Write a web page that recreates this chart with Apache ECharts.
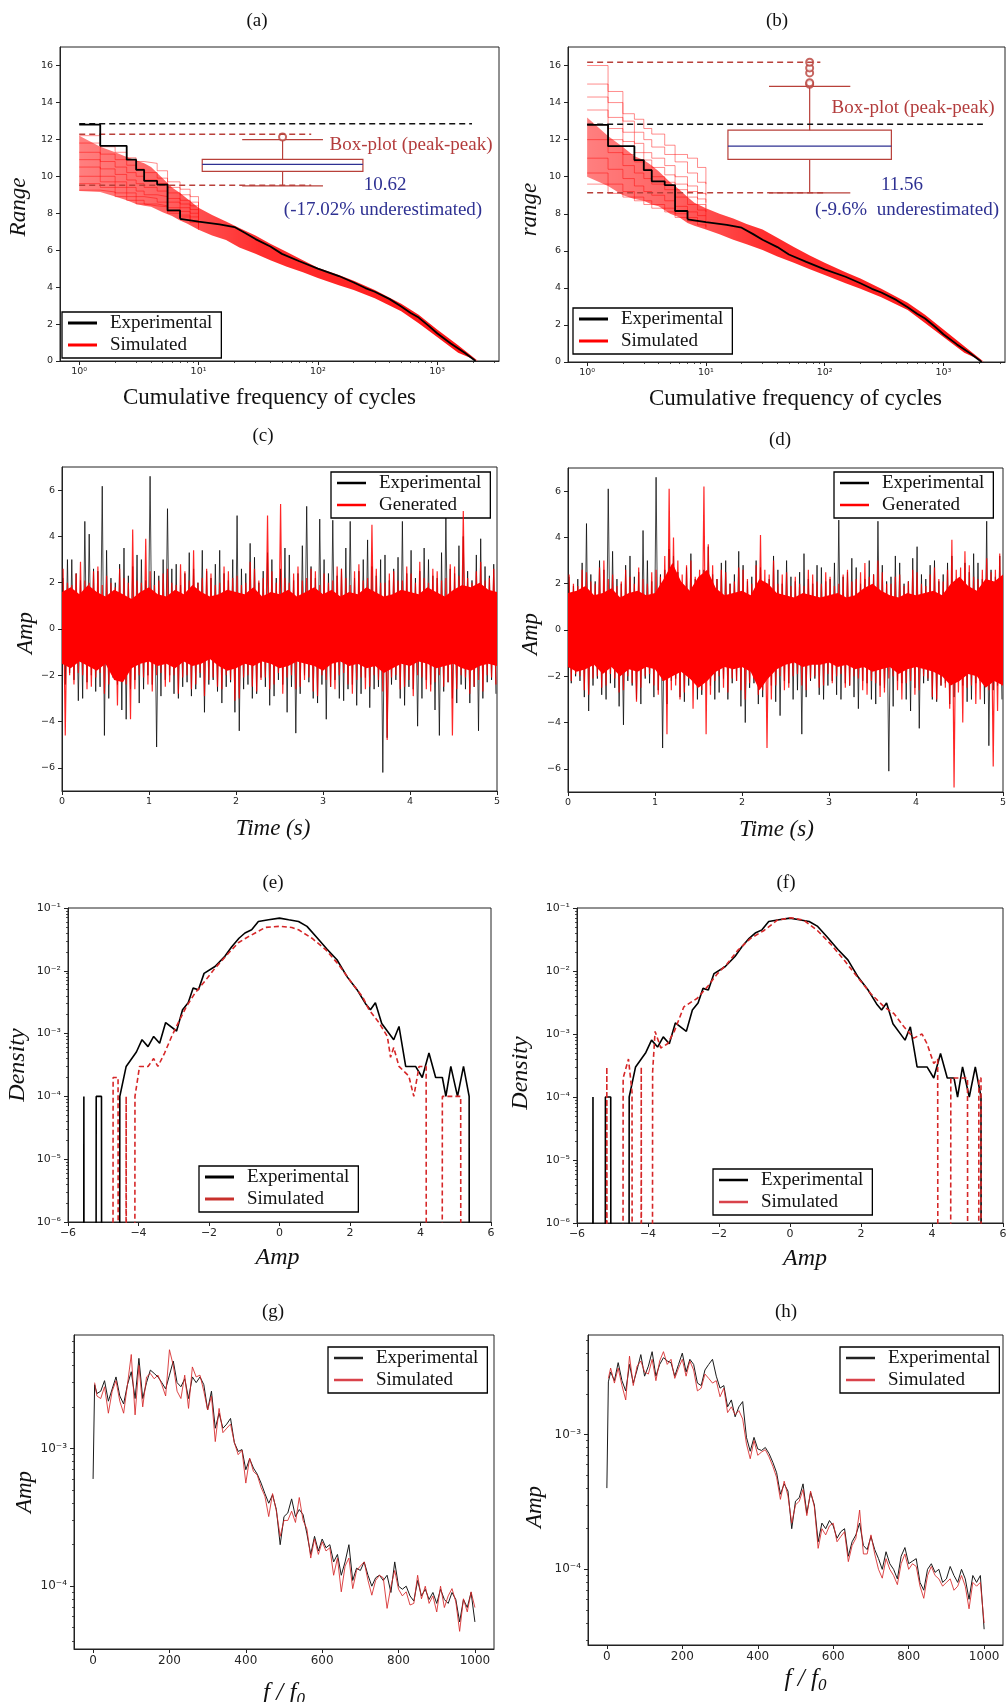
<!DOCTYPE html>
<html>
<head>
<meta charset="utf-8">
<title>Experimental vs simulated signals</title>
<script src="https://cdn.jsdelivr.net/npm/echarts@6/dist/echarts.min.js"></script>
<style>
  html, body { margin: 0; padding: 0; background: #fff; }
  #chart-container { width: 1007px; height: 1702px; }
</style>
</head>
<body>
<div id="chart-container"></div>
<script>
// ---------------- data: (a)/(b) cumulative rainflow range ----------------
const cycStepX = [1, 1.5, 2.5, 3, 3.5, 4.5, 5.5, 7];
const expRangeStep = [12.8, 11.65, 10.9, 10.35, 9.75, 9.55, 8.15, 7.7];
const cycTailX = [7, 10, 15, 20, 25, 30, 40, 50, 70, 100, 150, 200, 250, 300, 400, 500, 600, 700, 850, 1000, 1300, 1700, 2100];
const expRangeTail = [7.7, 7.55, 7.4, 7.25, 6.9, 6.6, 6.2, 5.8, 5.4, 5.0, 4.6, 4.25, 3.95, 3.75, 3.35, 2.95, 2.6, 2.35, 1.9, 1.5, 0.95, 0.45, 0];

// envelope of the simulated curves
const simBandX = [1, 1.5, 2, 2.5, 3, 3.5, 4, 5, 6, 7, 8, 10, 13, 17, 22, 30, 40, 55, 75, 100, 150, 200, 300, 500, 700, 1000, 1500, 2200];
const simHiA = [12.2, 11.6, 11.3, 11.05, 10.85, 10.7, 10.5, 9.9, 9.4, 9.1, 8.8, 8.3, 7.9, 7.55, 7.2, 6.8, 6.35, 5.9, 5.45, 5.05, 4.65, 4.35, 3.85, 3.1, 2.5, 1.7, 0.85, 0];
const simLoA = [9.2, 9.15, 8.9, 8.7, 8.5, 8.4, 8.35, 8.05, 7.85, 7.6, 7.45, 7.1, 6.8, 6.55, 6.15, 5.8, 5.45, 5.1, 4.8, 4.5, 4.1, 3.85, 3.4, 2.7, 2.05, 1.3, 0.45, 0];
const simHiB = [13.2, 12.2, 11.6, 11.1, 10.9, 10.6, 10.3, 9.7, 9.3, 8.9, 8.6, 8.3, 8.0, 7.75, 7.45, 7.15, 6.7, 6.2, 5.75, 5.35, 4.85, 4.5, 3.95, 3.2, 2.55, 1.75, 0.85, 0];
const simLoB = [10.0, 9.5, 9.0, 8.8, 8.7, 8.5, 8.4, 8.0, 7.8, 7.5, 7.35, 7.15, 6.9, 6.6, 6.35, 6.05, 5.7, 5.35, 5.0, 4.7, 4.25, 3.95, 3.5, 2.8, 2.1, 1.35, 0.5, 0];

// a few individual simulated step curves (low-cycle part)
const simStepX = [1, 1.5, 2, 2.5, 3, 3.5, 4.5, 5.5, 7, 8.5, 10];
const simCurvesA = [
  [12.2, 11.6, 11.3, 11.0, 10.8, 10.7, 10.3, 9.7, 9.3, 8.9, 8.4],
  [11.8, 11.2, 10.9, 10.6, 10.4, 10.2, 9.9, 9.4, 9.0, 8.6, 8.2],
  [11.3, 10.8, 10.5, 10.2, 10.0, 9.8, 9.6, 9.1, 8.7, 8.4, 8.0],
  [10.9, 10.4, 10.1, 9.8, 9.6, 9.4, 9.2, 8.8, 8.5, 8.2, 7.8],
  [10.5, 10.0, 9.7, 9.4, 9.2, 9.0, 8.9, 8.6, 8.3, 8.0, 7.6],
  [10.0, 9.7, 9.4, 9.1, 8.9, 8.8, 8.6, 8.3, 8.1, 7.8, 7.4],
  [9.6, 9.4, 9.1, 8.9, 8.7, 8.5, 8.4, 8.1, 7.9, 7.6, 7.2],
  [9.25, 9.15, 8.9, 8.7, 8.5, 8.4, 8.35, 8.0, 7.8, 7.5, 7.1]
];
const simCurvesB = [
  [16.0, 14.6, 13.4, 13.1, 12.6, 12.3, 11.7, 11.2, 11.0, 10.5, 9.6],
  [15.0, 14.0, 13.0, 12.4, 12.0, 11.6, 11.2, 10.8, 10.2, 9.7, 9.0],
  [14.3, 13.2, 12.4, 11.8, 11.3, 11.0, 10.6, 10.0, 9.5, 9.1, 8.6],
  [13.6, 12.6, 11.9, 11.3, 10.9, 10.5, 10.1, 9.6, 9.2, 8.8, 8.3],
  [12.8, 12.0, 11.2, 10.8, 10.4, 10.0, 9.7, 9.3, 8.9, 8.5, 8.1],
  [12.0, 11.3, 10.6, 10.2, 9.9, 9.6, 9.3, 8.9, 8.5, 8.2, 7.9],
  [11.0, 10.4, 9.9, 9.5, 9.2, 9.0, 8.7, 8.4, 8.1, 7.9, 7.6],
  [10.2, 9.6, 9.2, 8.9, 8.7, 8.5, 8.3, 8.0, 7.8, 7.6, 7.3],
  [9.6, 9.1, 8.9, 8.7, 8.5, 8.3, 8.1, 7.8, 7.6, 7.4, 7.2]
];

// box plots of peak-peak range: [lower whisker, Q1, median, Q3, upper whisker]
const boxA = [9.48, 10.27, 10.65, 10.92, 11.99];
const outliersA = [12.13];
const boxB = [9.13, 10.93, 11.65, 12.51, 14.88];
const outliersB = [14.99, 15.07, 15.6, 15.87, 16.18];
// dashed reference levels [level, x end]
const refA = { exp: [12.85, 1960], hi: [12.27, 88], lo: [9.51, 88] };
const refB = { exp: [12.83, 2150], hi: [16.18, 92], lo: [9.13, 98] };

// ---------------- data: (c)/(d) time series, max/min per 0.05 s bin ----------------
const timeBins = [0, 0.05, 0.1, 0.15, 0.2, 0.25, 0.3, 0.35, 0.4, 0.45, 0.5, 0.55, 0.6, 0.65, 0.7, 0.75, 0.8, 0.85, 0.9, 0.95,
  1.0, 1.05, 1.1, 1.15, 1.2, 1.25, 1.3, 1.35, 1.4, 1.45, 1.5, 1.55, 1.6, 1.65, 1.7, 1.75, 1.8, 1.85, 1.9, 1.95,
  2.0, 2.05, 2.1, 2.15, 2.2, 2.25, 2.3, 2.35, 2.4, 2.45, 2.5, 2.55, 2.6, 2.65, 2.7, 2.75, 2.8, 2.85, 2.9, 2.95,
  3.0, 3.05, 3.1, 3.15, 3.2, 3.25, 3.3, 3.35, 3.4, 3.45, 3.5, 3.55, 3.6, 3.65, 3.7, 3.75, 3.8, 3.85, 3.9, 3.95,
  4.0, 4.05, 4.1, 4.15, 4.2, 4.25, 4.3, 4.35, 4.4, 4.45, 4.5, 4.55, 4.6, 4.65, 4.7, 4.75, 4.8, 4.85, 4.9, 4.95];
const expMaxC = [2.2, 3.0, 3.0, 2.4, 2.1, 4.65, 4.1, 2.6, 2.5, 6.17, 3.4, 2.2, 2.0, 2.8, 3.5, 2.3, 2.7, 3.2, 3.0, 2.1,
  6.6, 2.5, 2.3, 3.0, 5.2, 2.6, 2.8, 1.9, 2.4, 3.3, 2.6, 2.0, 3.4, 2.5, 2.2, 2.8, 3.4, 2.4, 2.1, 3.0,
  4.9, 2.6, 2.4, 3.7, 3.1, 2.0, 2.5, 3.3, 3.0, 2.2, 2.6, 3.5, 3.2, 2.1, 2.4, 3.6, 5.3, 2.7, 2.2, 4.75,
  3.0, 2.4, 4.7, 2.3, 2.6, 3.5, 4.65, 2.2, 2.5, 3.0, 3.85, 2.7, 2.3, 3.0, 3.2, 2.1, 2.6, 3.1, 4.65, 2.4,
  3.4, 2.2, 2.5, 3.5, 3.0, 2.3, 2.2, 3.3, 4.87, 2.6, 2.4, 3.6, 4.0, 2.5, 2.1, 3.2, 3.9, 2.7, 2.3, 2.8];
const expMinC = [-2.4, -1.9, -2.2, -3.1, -3.0, -2.3, -2.0, -2.7, -2.5, -4.6, -3.0, -2.1, -2.4, -3.5, -3.9, -2.6, -2.2, -3.2, -2.6, -2.0,
  -2.4, -5.1, -2.9, -2.2, -2.0, -2.8, -3.0, -2.5, -2.3, -2.9, -2.6, -2.1, -3.6, -2.4, -2.2, -2.7, -3.2, -2.5, -2.3, -3.6,
  -4.4, -2.6, -2.4, -3.0, -2.8, -2.1, -2.5, -3.3, -2.9, -2.2, -2.4, -3.6, -2.5, -4.5, -2.8, -2.0, -2.3, -3.0, -3.2, -2.4,
  -3.9, -2.5, -2.2, -3.0, -3.1, -2.6, -2.4, -3.3, -2.8, -2.1, -3.4, -2.6, -2.5, -6.2, -4.7, -2.4, -2.2, -3.0, -3.3, -2.5,
  -2.6, -4.2, -3.0, -2.2, -2.4, -3.5, -4.6, -2.7, -2.3, -3.0, -3.2, -2.4, -2.6, -3.2, -2.5, -4.4, -3.0, -2.3, -2.2, -2.8];
const simMaxC = [2.6, 2.0, 1.9, 2.4, 2.9, 2.1, 2.0, 2.5, 2.7, 1.9, 2.3, 2.0, 1.8, 2.6, 2.2, 2.0, 4.3, 2.1, 2.0, 3.9,
  2.5, 1.9, 2.1, 2.4, 2.6, 2.0, 1.9, 2.8, 2.5, 2.1, 3.4, 2.0, 2.2, 2.6, 2.4, 1.9, 2.0, 2.7, 2.5, 2.2,
  2.3, 1.9, 2.0, 2.9, 2.6, 2.1, 2.2, 4.9, 2.5, 2.0, 5.4, 2.2, 2.0, 2.4, 2.7, 2.1, 2.2, 2.6, 2.5, 1.9,
  2.4, 2.0, 2.1, 2.7, 2.6, 2.2, 1.9, 2.5, 2.8, 2.1, 2.2, 4.5, 2.6, 2.0, 2.0, 2.4, 2.5, 2.1, 2.1, 2.7,
  2.4, 2.0, 2.9, 2.2, 2.0, 2.6, 2.5, 2.1, 2.2, 2.8, 2.7, 2.3, 5.1, 2.2, 2.0, 2.5, 2.9, 2.1, 2.2, 2.6];
const simMinC = [-4.6, -2.0, -2.4, -1.9, -2.0, -2.6, -2.5, -2.1, -1.9, -2.8, -2.4, -2.0, -3.3, -2.2, -2.4, -3.9, -2.6, -2.0, -2.1, -2.4,
  -2.7, -2.0, -1.9, -2.5, -2.3, -2.0, -2.8, -2.1, -2.0, -2.6, -2.4, -1.9, -2.9, -2.2, -2.1, -2.5, -2.6, -2.0, -2.2, -3.1,
  -3.0, -2.1, -2.0, -2.5, -2.7, -2.2, -2.1, -2.6, -2.4, -1.9, -2.8, -2.1, -2.0, -2.6, -2.5, -2.2, -2.1, -2.7, -2.9, -2.0,
  -2.2, -2.5, -2.6, -2.0, -1.9, -2.4, -2.8, -2.2, -2.1, -2.6, -2.5, -2.0, -2.2, -2.7, -4.8, -2.1, -2.0, -2.6, -2.5, -2.2,
  -2.9, -2.0, -2.1, -2.6, -2.7, -2.3, -2.0, -2.5, -2.3, -4.6, -2.6, -2.0, -2.1, -2.8, -2.5, -2.2, -2.7, -2.0, -2.1, -2.4];
const expMaxD = [2.3, 1.9, 2.2, 2.9, 4.6, 2.4, 2.1, 3.0, 2.6, 6.1, 3.4, 2.2, 2.0, 2.8, 3.2, 2.3, 2.5, 4.3, 3.0, 2.1,
  6.6, 2.4, 2.6, 3.5, 3.2, 2.5, 2.0, 2.7, 3.3, 2.2, 2.1, 2.6, 3.6, 2.4, 2.2, 2.9, 3.0, 2.0, 2.4, 3.4,
  2.8, 2.1, 2.3, 3.0, 2.7, 1.9, 2.2, 3.2, 2.6, 2.0, 3.0, 2.3, 2.1, 2.5, 3.3, 2.2, 2.0, 2.8, 2.7, 2.1,
  2.2, 2.9, 4.75, 2.3, 2.5, 3.1, 2.7, 2.0, 2.2, 3.0, 2.4, 4.7, 2.8, 2.1, 2.3, 3.2, 2.9, 2.0, 2.1, 3.1,
  3.6, 2.4, 2.2, 2.8, 3.0, 2.1, 2.4, 2.9, 3.2, 2.2, 2.1, 2.9, 2.5, 3.3, 2.9, 2.2, 4.7, 2.6, 2.3, 3.2];
const expMinD = [-2.3, -2.0, -2.2, -2.9, -3.5, -2.4, -2.1, -2.8, -3.0, -2.3, -2.5, -3.3, -4.1, -2.2, -2.4, -3.0, -3.2, -2.1, -2.3, -2.9,
  -2.6, -5.1, -3.2, -2.2, -2.1, -2.9, -3.1, -2.4, -2.2, -3.0, -2.8, -2.0, -2.4, -3.0, -2.7, -2.1, -3.0, -2.3, -2.2, -3.3,
  -4.0, -2.5, -2.3, -3.2, -2.9, -2.1, -2.4, -3.1, -3.7, -2.2, -2.3, -3.0, -2.6, -4.5, -2.9, -2.2, -2.1, -2.8, -3.0, -2.4,
  -2.2, -2.8, -3.0, -2.3, -2.4, -2.9, -3.4, -2.2, -2.3, -3.0, -3.2, -2.4, -2.5, -6.1, -3.3, -2.2, -2.3, -3.0, -3.5, -2.5,
  -4.25, -2.3, -2.2, -3.0, -3.1, -2.4, -2.3, -3.2, -2.9, -2.1, -2.4, -3.1, -3.0, -2.3, -2.2, -3.2, -5.0, -2.6, -2.4, -3.0];
const simMaxD = [2.4, 2.0, 1.9, 2.6, 2.5, 2.1, 2.0, 2.7, 3.0, 2.2, 2.4, 1.9, 2.1, 2.6, 2.3, 2.0, 2.7, 2.2, 2.0, 2.5,
  2.6, 2.3, 3.2, 6.1, 4.0, 3.0, 2.4, 2.8, 3.0, 2.3, 2.6, 6.2, 3.7, 2.8, 2.2, 2.6, 2.5, 2.0, 2.1, 2.7,
  2.6, 2.2, 2.0, 2.8, 4.1, 2.6, 2.4, 3.0, 2.0, 2.4, 2.5, 1.9, 2.3, 2.0, 1.9, 2.6, 2.4, 2.1, 2.0, 2.5,
  2.3, 1.9, 2.0, 2.4, 2.6, 2.1, 2.2, 2.5, 2.9, 2.3, 2.4, 3.0, 2.5, 2.0, 2.0, 2.3, 2.4, 1.9, 2.1, 2.6,
  2.5, 2.0, 1.9, 2.4, 2.7, 2.2, 2.1, 2.6, 3.9, 2.6, 2.7, 3.4, 2.8, 2.3, 2.2, 2.6, 3.1, 2.5, 2.6, 3.3];
const simMinD = [-2.2, -1.9, -2.0, -2.6, -2.8, -2.1, -2.0, -2.5, -2.4, -1.9, -2.1, -2.7, -2.6, -2.0, -2.3, -3.1, -2.5, -2.0, -1.9, -2.4,
  -2.8, -2.2, -4.5, -2.6, -2.4, -3.0, -2.7, -2.1, -3.4, -2.5, -2.6, -4.5, -2.8, -2.2, -2.0, -2.5, -2.7, -2.1, -2.2, -2.6,
  -3.0, -2.3, -2.1, -2.8, -2.6, -5.1, -3.0, -2.4, -2.0, -2.6, -2.5, -2.0, -1.9, -2.4, -2.6, -2.1, -2.0, -2.5, -2.4, -1.9,
  -2.3, -2.0, -1.9, -2.5, -2.4, -2.0, -2.1, -2.6, -2.8, -2.2, -2.3, -2.9, -2.7, -2.1, -2.0, -2.6, -3.0, -2.3, -2.2, -2.8,
  -2.6, -2.0, -2.1, -2.9, -3.0, -2.4, -2.5, -3.4, -6.8, -2.7, -4.0, -2.5, -2.4, -3.2, -3.0, -2.2, -2.6, -5.9, -3.5, -2.4];
// dense core of the generated signal
const coreT = [0, 0.1, 0.2, 0.3, 0.4, 0.5, 0.6, 0.7, 0.8, 0.9, 1.0, 1.1, 1.2, 1.3, 1.4, 1.5, 1.6, 1.7, 1.8, 1.9,
  2.0, 2.1, 2.2, 2.3, 2.4, 2.5, 2.6, 2.7, 2.8, 2.9, 3.0, 3.1, 3.2, 3.3, 3.4, 3.5, 3.6, 3.7, 3.8, 3.9,
  4.0, 4.1, 4.2, 4.3, 4.4, 4.5, 4.6, 4.7, 4.8, 4.9, 5.0];
const coreHiC = [1.6, 1.8, 1.5, 1.9, 1.6, 1.4, 1.7, 1.5, 1.3, 1.6, 1.8, 1.5, 1.4, 1.7, 1.5, 1.9, 1.6, 1.4, 1.5, 1.7,
  1.6, 1.5, 1.8, 1.4, 1.6, 1.5, 1.7, 1.4, 1.6, 1.8, 1.5, 1.7, 1.4, 1.6, 1.5, 1.8, 1.6, 1.4, 1.5, 1.7,
  1.6, 1.5, 1.8, 1.6, 1.4, 1.7, 1.9, 1.8, 2.0, 1.7, 1.6];
const coreLoC = [-1.5, -1.7, -1.4, -1.6, -1.8, -1.5, -2.2, -2.3, -1.7, -1.5, -1.4, -1.6, -1.5, -1.7, -1.4, -1.6, -1.5, -1.3, -1.6, -1.8,
  -1.7, -1.5, -1.6, -1.4, -1.5, -1.7, -1.6, -1.4, -1.5, -1.6, -1.8, -1.5, -1.4, -1.6, -1.5, -1.7, -1.6, -1.9, -1.7, -1.5,
  -1.6, -1.4, -1.5, -1.7, -1.6, -1.5, -1.7, -1.8, -1.6, -1.5, -1.6];
const coreHiD = [1.6, 1.7, 1.9, 1.5, 1.6, 1.8, 1.4, 1.6, 1.7, 1.5, 1.6, 2.2, 2.9, 2.1, 1.7, 2.3, 2.6, 1.8, 1.5, 1.6,
  1.7, 1.5, 2.2, 2.0, 1.6, 1.5, 1.4, 1.6, 1.5, 1.4, 1.5, 1.6, 1.4, 1.5, 1.8, 2.0, 1.7, 1.5, 1.4, 1.6,
  1.5, 1.6, 1.7, 1.5, 2.0, 2.3, 1.9, 1.7, 2.2, 2.1, 2.4];
const coreLoD = [-1.6, -1.8, -1.7, -1.5, -1.9, -1.6, -2.0, -1.7, -1.8, -1.6, -1.7, -2.2, -2.0, -1.8, -2.1, -2.5, -2.2, -1.8, -1.6, -1.7,
  -1.6, -1.8, -2.6, -2.1, -1.7, -1.5, -1.4, -1.6, -1.5, -1.5, -1.4, -1.6, -1.5, -1.7, -1.6, -1.8, -1.7, -1.6, -1.9, -1.7,
  -1.6, -1.7, -1.8, -2.0, -2.4, -2.2, -1.9, -2.0, -2.5, -2.2, -2.4];

// ---------------- data: (e)/(f) amplitude density (0 = empty bin) ----------------
const ampExp = [-5.56, -5.55, -5.54, -5.21, -5.2, -5.05, -5.04, -4.54, -4.53, -4.35, -4.06, -3.9, -3.73, -3.57, -3.4, -3.23,
  -2.92, -2.75, -2.59, -2.45, -2.3, -2.14, -1.83, -1.55, -1.36, -1.15, -0.98, -0.79, -0.6, -0.31, 0, 0.26, 0.54, 0.78,
  1.06, 1.35, 1.63, 1.92, 2.2, 2.44, 2.58, 2.72, 2.9, 3.24, 3.39, 3.58, 3.86, 4.05, 4.24, 4.43, 4.62, 4.72, 4.86,
  5.05, 5.22, 5.38, 5.39];
const densExp = [0, 1e-4, 0, 0, 1e-4, 1e-4, 0, 0, 1e-4, 3e-4, 5.1e-4, 8e-4, 6.2e-4, 9e-4, 7e-4, 1.5e-3,
  1.1e-3, 2.4e-3, 3.1e-3, 5.3e-3, 5e-3, 9.1e-3, 1.17e-2, 1.7e-2, 2.4e-2, 3.3e-2, 4e-2, 4.5e-2, 6.1e-2, 6.5e-2, 6.9e-2, 6.5e-2, 6.1e-2, 5.1e-2,
  3.4e-2, 2.2e-2, 1.5e-2, 8e-3, 5e-3, 3e-3, 2.4e-3, 3.1e-3, 1.45e-3, 8e-4, 1.3e-3, 3e-4, 3e-4, 2e-4, 4.9e-4, 2e-4, 2e-4, 1e-4, 3e-4,
  1e-4, 3e-4, 1e-4, 0];
const ampSimE = [-4.73, -4.72, -4.58, -4.57, -4.36, -4.35, -4.34, -4.11, -4.1, -3.97, -3.73, -3.57, -3.45, -3.26, -3.06, -2.87,
  -2.64, -2.4, -2.12, -1.83, -1.45, -1.17, -0.88, -0.69, -0.4, 0, 0.35, 0.54, 0.92, 1.3, 1.68, 2.06, 2.35, 2.54, 2.82,
  3.06, 3.15, 3.24, 3.39, 3.67, 3.81, 3.96, 4.1, 4.16, 4.17, 4.61, 4.62, 5.14, 5.15];
const densSimE = [0, 2e-4, 2e-4, 0, 0, 1e-4, 0, 0, 1e-4, 3e-4, 3e-4, 4e-4, 3e-4, 4.9e-4, 9e-4, 1.5e-3,
  2.7e-3, 4.4e-3, 6.8e-3, 1.1e-2, 1.9e-2, 2.8e-2, 3.5e-2, 4e-2, 4.9e-2, 5.1e-2, 4.9e-2, 4.5e-2, 3.3e-2, 2.2e-2, 1.25e-2, 6.3e-3, 3.9e-3, 2.4e-3, 1.5e-3,
  9e-4, 4.2e-4, 6e-4, 3e-4, 2.1e-4, 1e-4, 3e-4, 3e-4, 3e-4, 0, 0, 1e-4, 1e-4, 0];
const ampSimF = [-5.17, -5.16, -5.15, -4.71, -4.7, -4.55, -4.45, -4.44, -4.2, -4.19, -4.18, -3.88, -3.87, -3.8, -3.64, -3.45,
  -3.26, -2.99, -2.61, -2.33, -2.05, -1.77, -1.48, -1.11, -0.73, -0.36, 0.02, 0.39, 0.77, 1.14, 1.52, 1.9, 2.27, 2.65,
  2.93, 3.21, 3.49, 3.72, 3.86, 4.05, 4.16, 4.17, 4.52, 4.53, 5.0, 5.01, 5.31, 5.32, 5.38, 5.39];
const densSimF = [0, 3e-4, 0, 0, 2e-4, 4e-4, 1.2e-4, 0, 0, 3e-4, 0, 0, 2.5e-4, 1.1e-3, 6e-4, 7e-4,
  1.1e-3, 2.7e-3, 3.7e-3, 5.6e-3, 9e-3, 1.3e-2, 2.1e-2, 3.3e-2, 4.4e-2, 6.4e-2, 7e-2, 6.4e-2, 4.4e-2, 2.7e-2, 1.5e-2, 8e-3, 4.4e-3, 2.7e-3,
  2.1e-3, 1.3e-3, 8.6e-4, 1e-3, 7e-4, 3.4e-4, 4e-4, 0, 0, 2e-4, 2e-4, 0, 0, 2e-4, 2e-4, 0];

// ---------------- data: (g)/(h) amplitude spectra ----------------
const freq = [0, 4, 10, 20, 30, 40, 50, 60, 70, 80, 90, 100, 110, 120, 130, 140, 150, 160, 170, 180, 190,
  200, 210, 220, 230, 240, 250, 260, 270, 280, 290, 300, 310, 320, 330, 340, 350, 360, 370, 380, 390,
  400, 410, 420, 430, 440, 450, 460, 470, 480, 490, 500, 510, 520, 530, 540, 550, 560, 570, 580, 590,
  600, 610, 620, 630, 640, 650, 660, 670, 680, 690, 700, 710, 720, 730, 740, 750, 760, 770, 780, 790,
  800, 810, 820, 830, 840, 850, 860, 870, 880, 890, 900, 910, 920, 930, 940, 950, 960, 970, 980, 990, 1000];
const specExpG = [6.0e-4, 2.9e-3, 2.5e-3, 2.6e-3, 3.1e-3, 2.2e-3, 2.7e-3, 3.3e-3, 2.4e-3, 2.1e-3, 2.9e-3,
  3.6e-3, 2.3e-3, 4.5e-3, 2.3e-3, 3.0e-3, 3.7e-3, 3.5e-3, 3.3e-3, 3.0e-3, 2.7e-3,
  3.4e-3, 4.3e-3, 3.0e-3, 2.8e-3, 3.2e-3, 2.3e-3, 3.3e-3, 3.0e-3, 3.3e-3, 2.9e-3,
  1.9e-3, 2.6e-3, 1.4e-3, 1.8e-3, 1.4e-3, 1.5e-3, 1.65e-3, 1.1e-3, 9.5e-4, 9.8e-4,
  7.0e-4, 8.4e-4, 7.2e-4, 6.5e-4, 5.6e-4, 4.7e-4, 4.0e-4, 4.6e-4, 3.6e-4, 2.0e-4,
  3.2e-4, 3.4e-4, 4.3e-4, 3.2e-4, 3.6e-4, 3.3e-4, 2.4e-4, 1.7e-4, 2.3e-4, 1.8e-4,
  2.2e-4, 1.9e-4, 2.0e-4, 1.5e-4, 1.7e-4, 1.2e-4, 1.5e-4, 2.0e-4, 1.1e-4, 1.35e-4,
  1.3e-4, 1.5e-4, 1.2e-4, 1.0e-4, 1.15e-4, 1.2e-4, 1.1e-4, 1.2e-4, 9.0e-5, 1.5e-4,
  1.0e-4, 9.5e-5, 1.0e-4, 8.5e-5, 7.8e-5, 1.1e-4, 8.5e-5, 9.5e-5, 8.0e-5, 9.0e-5,
  7.5e-5, 9.5e-5, 8.0e-5, 7.5e-5, 9.0e-5, 8.0e-5, 5.5e-5, 8.0e-5, 7.0e-5, 9.0e-5,
  5.5e-5];
// simulated spectra start at the second frequency (4)
const specSimG = [3.0e-3, 2.4e-3, 2.3e-3, 2.8e-3, 1.8e-3, 2.6e-3, 3.1e-3, 2.2e-3, 1.8e-3, 2.9e-3,
  4.8e-3, 1.75e-3, 4.0e-3, 2.0e-3, 3.3e-3, 3.5e-3, 3.2e-3, 3.4e-3, 2.9e-3, 2.4e-3,
  5.2e-3, 4.0e-3, 2.6e-3, 2.3e-3, 3.4e-3, 1.95e-3, 3.9e-3, 3.3e-3, 3.4e-3, 2.6e-3,
  1.9e-3, 2.4e-3, 1.12e-3, 1.95e-3, 1.3e-3, 1.4e-3, 1.5e-3, 1.1e-3, 9.0e-4, 9.7e-4,
  5.6e-4, 8.5e-4, 6.8e-4, 6.4e-4, 5.2e-4, 4.5e-4, 3.2e-4, 4.7e-4, 3.5e-4, 2.3e-4,
  3.0e-4, 3.0e-4, 3.5e-4, 2.9e-4, 4.4e-4, 3.0e-4, 2.6e-4, 1.6e-4, 2.2e-4, 1.7e-4,
  2.1e-4, 1.8e-4, 1.9e-4, 1.2e-4, 1.6e-4, 9.1e-5, 1.4e-4, 1.6e-4, 9.6e-5, 1.3e-4,
  1.4e-4, 1.5e-4, 1.1e-4, 8.6e-5, 1.1e-4, 1.2e-4, 1.15e-4, 6.9e-5, 1.0e-4, 1.3e-4,
  9.5e-5, 8.5e-5, 9.1e-5, 7.3e-5, 7.5e-5, 1.2e-4, 8.1e-5, 1.0e-4, 7.5e-5, 8.5e-5,
  6.5e-5, 1.0e-4, 7.0e-5, 8.5e-5, 9.6e-5, 7.7e-5, 4.7e-5, 8.1e-5, 6.5e-5, 9.1e-5,
  7.0e-5];
const specExpH = [4.0e-4, 2.45e-3, 2.9e-3, 2.5e-3, 3.4e-3, 2.5e-3, 2.1e-3, 3.3e-3, 2.4e-3, 3.0e-3, 3.9e-3,
  2.7e-3, 3.2e-3, 4.1e-3, 2.7e-3, 3.3e-3, 3.7e-3, 3.5e-3, 3.4e-3, 2.7e-3, 3.3e-3,
  4.0e-3, 2.9e-3, 3.6e-3, 3.3e-3, 2.4e-3, 2.3e-3, 3.0e-3, 3.3e-3, 3.6e-3, 2.7e-3,
  2.2e-3, 2.3e-3, 1.6e-3, 1.8e-3, 1.35e-3, 1.6e-3, 1.75e-3, 9.5e-4, 7.5e-4, 9.5e-4,
  7.8e-4, 7.6e-4, 8.0e-4, 7.2e-4, 6.2e-4, 5.2e-4, 3.6e-4, 4.3e-4, 3.8e-4, 2.0e-4,
  3.2e-4, 3.4e-4, 4.3e-4, 2.6e-4, 3.7e-4, 3.0e-4, 1.6e-4, 2.2e-4, 2.0e-4, 2.3e-4,
  2.1e-4, 1.7e-4, 1.9e-4, 2.0e-4, 1.25e-4, 1.6e-4, 1.8e-4, 2.2e-4, 1.5e-4, 1.4e-4,
  1.75e-4, 1.4e-4, 1.2e-4, 1.0e-4, 1.35e-4, 1.1e-4, 1.0e-4, 8.5e-5, 1.25e-4, 1.45e-4,
  1.1e-4, 1.15e-4, 1.2e-4, 8.0e-5, 7.0e-5, 1.0e-4, 1.1e-4, 9.5e-5, 1.0e-4, 8.0e-5,
  8.5e-5, 1.05e-4, 9.0e-5, 8.0e-5, 1.0e-4, 8.5e-5, 6.0e-5, 9.0e-5, 8.0e-5, 9.0e-5,
  3.6e-5];
const specSimH = [2.6e-3, 3.1e-3, 2.4e-3, 3.1e-3, 2.3e-3, 1.8e-3, 3.8e-3, 2.3e-3, 3.2e-3, 3.5e-3,
  2.9e-3, 2.8e-3, 3.6e-3, 2.5e-3, 3.5e-3, 4.1e-3, 3.3e-3, 3.6e-3, 2.6e-3, 3.1e-3,
  3.6e-3, 2.7e-3, 3.5e-3, 3.0e-3, 2.1e-3, 2.2e-3, 2.8e-3, 2.6e-3, 2.4e-3, 2.5e-3,
  1.9e-3, 2.2e-3, 1.45e-3, 1.6e-3, 1.4e-3, 1.5e-3, 1.3e-3, 8.5e-4, 6.6e-4, 9.0e-4,
  7.0e-4, 7.4e-4, 7.7e-4, 6.8e-4, 5.8e-4, 4.8e-4, 3.3e-4, 4.5e-4, 3.5e-4, 2.2e-4,
  3.0e-4, 3.2e-4, 3.9e-4, 2.5e-4, 3.8e-4, 2.9e-4, 1.43e-4, 2.0e-4, 1.8e-4, 2.1e-4,
  2.2e-4, 1.6e-4, 1.75e-4, 1.9e-4, 1.14e-4, 1.5e-4, 1.7e-4, 2.75e-4, 1.3e-4, 1.3e-4,
  1.8e-4, 1.3e-4, 1.0e-4, 8.6e-5, 1.2e-4, 1.0e-4, 9.0e-5, 7.7e-5, 1.1e-4, 1.3e-4,
  1.0e-4, 1.1e-4, 1.05e-4, 7.5e-5, 6.1e-5, 9.0e-5, 1.05e-4, 9.0e-5, 8.5e-5, 7.5e-5,
  8.0e-5, 8.5e-5, 7.0e-5, 7.5e-5, 9.0e-5, 7.5e-5, 5.1e-5, 8.0e-5, 7.5e-5, 8.0e-5,
  4.0e-5];

// ---------------- helpers ----------------
const SERIF = "'Liberation Serif', 'Times New Roman', serif";
const SANS = "'DejaVu Sans', sans-serif";
const RED = '#ff0000';
const BOXRED = '#b8403a';
const BOXBLUE = '#2e3192';

const supMap = { '-': '\u207B', '0': '\u2070', '1': '\u00B9', '2': '\u00B2', '3': '\u00B3', '4': '\u2074', '5': '\u2075', '6': '\u2076', '7': '\u2077', '8': '\u2078', '9': '\u2079' };
function pow10Label(v) {
  const e = Math.round(Math.log10(v));
  return '10' + String(e).split('').map(c => supMap[c]).join('');
}
function minusLabel(v) { return String(v).replace('-', '\u2212'); }
function plainLabel(v) { return String(v); }
function logMinor(lo, hi) {
  const out = [];
  for (let e = lo; e <= hi; e++) {
    for (let m = 2; m <= 9; m++) out.push(+(m * Math.pow(10, e)).toPrecision(3));
  }
  return out;
}
const noZero = v => (v > 0 ? v : 1e-12);

const xAxes = [], yAxes = [], series = [];

function axis(dim, gi, o) {
  return {
    type: o.type || 'value', gridIndex: gi, position: dim === 'x' ? 'bottom' : 'left',
    min: o.min, max: o.max, logBase: 10,
    name: o.name, nameLocation: 'middle', nameGap: o.gap,
    nameTextStyle: Object.assign({
      fontFamily: SERIF, fontStyle: o.nameStyle || 'italic', fontSize: o.nameSize || 23, color: '#111',
      padding: o.namePad || 0
    }, o.nameRich ? { rich: o.nameRich } : {}),
    axisLine: { show: true, onZero: false, lineStyle: { color: '#222', width: 1 } },
    axisTick: { show: true, inside: false, length: 4, customValues: o.ticks, lineStyle: { color: '#222', width: 1 } },
    axisLabel: {
      show: true, customValues: o.ticks, formatter: o.fmt || plainLabel,
      fontFamily: SANS, fontSize: o.fs, color: '#262626', margin: dim === 'x' ? 6 : 7
    },
    splitLine: { show: false }, minorTick: { show: false }
  };
}
function minorAxis(dim, gi, o) {
  return {
    type: 'log', gridIndex: gi, position: dim === 'x' ? 'bottom' : 'left', min: o.min, max: o.max, logBase: 10,
    axisLine: { show: false, onZero: false }, axisLabel: { show: false }, splitLine: { show: false },
    axisTick: { show: true, length: 2, customValues: o.ticks, lineStyle: { color: '#222', width: 0.8 } }
  };
}
function addX(a) { xAxes.push(a); return xAxes.length - 1; }
function addY(a) { yAxes.push(a); return yAxes.length - 1; }

// polygon between lower (dim 1) and upper (dim 2) values, drawn once
function bandPolygon(fill) {
  return function (params, api) {
    if (params.dataIndexInside !== 0) return null;
    const n = params.dataInsideLength;
    const upper = [], lower = [];
    for (let j = 0; j < n; j++) {
      const x = api.value(0, j);
      upper.push(api.coord([x, api.value(2, j)]));
      lower.push(api.coord([x, api.value(1, j)]));
    }
    return { type: 'polygon', shape: { points: upper.concat(lower.reverse()) }, style: { fill: fill } };
  };
}

function boxRenderer(lay) {
  return function (params, api) {
    const v = [0, 1, 2, 3, 4].map(d => api.value(d));
    const p = (x, y) => api.coord([x, y]);
    const cx = lay.cx, hb = lay.half, hc = lay.cap;
    const tl = p(cx - hb, v[3]), br = p(cx + hb, v[1]);
    const edge = { stroke: BOXRED, lineWidth: 1.2 };
    const seg = (a, b, st) => ({ type: 'line', shape: { x1: a[0], y1: a[1], x2: b[0], y2: b[1] }, style: st });
    return {
      type: 'group', children: [
        { type: 'rect', shape: { x: tl[0], y: tl[1], width: br[0] - tl[0], height: br[1] - tl[1] }, style: { stroke: BOXRED, lineWidth: 1.2, fill: 'none' } },
        seg(p(cx - hb, v[2]), p(cx + hb, v[2]), { stroke: BOXBLUE, lineWidth: 1.2 }),
        seg(p(cx, v[3]), p(cx, v[4]), edge),
        seg(p(cx, v[1]), p(cx, v[0]), edge),
        seg(p(cx - hc, v[4]), p(cx + hc, v[4]), edge),
        seg(p(cx - hc, v[0]), p(cx + hc, v[0]), edge)
      ]
    };
  };
}

// one up-stroke and one down-stroke per bin
function zigzag(maxs, mins) {
  const pts = [];
  timeBins.forEach((t0, i) => { pts.push([t0 + 0.0125, maxs[i]], [t0 + 0.0375, mins[i]]); });
  return pts;
}

// ---------------- layout ----------------
const grids = [
  { left: 60, top: 47, width: 439, height: 314 },   // a
  { left: 568, top: 47, width: 437, height: 315 },  // b
  { left: 62, top: 467, width: 435, height: 324 },  // c
  { left: 568, top: 468, width: 435, height: 324 }, // d
  { left: 68, top: 908, width: 423, height: 314 },  // e
  { left: 577, top: 908, width: 426, height: 315 }, // f
  { left: 74, top: 1335, width: 420, height: 314 }, // g
  { left: 588, top: 1335, width: 415, height: 310 } // h
];

// ---------------- (a) & (b) ----------------
const bandGradient = () => new echarts.graphic.LinearGradient(0, 0, 1, 0, [
  { offset: 0, color: 'rgba(255,0,0,0.5)' },
  { offset: 0.22, color: 'rgba(255,0,0,0.62)' },
  { offset: 0.45, color: 'rgba(255,0,0,0.82)' },
  { offset: 1, color: 'rgba(255,0,0,0.92)' }
]);

function rangePanel(gi, d) {
  const xi = addX(axis('x', gi, {
    type: 'log', min: 0.69, max: 3300, ticks: [1, 10, 100, 1000], fmt: pow10Label, fs: 9.5,
    name: 'Cumulative frequency of cycles', nameStyle: 'normal', gap: 25, namePad: d.xNamePad
  }));
  addX(minorAxis('x', gi, { min: 0.69, max: 3300, ticks: logMinor(0, 3).filter(v => v < 3300) }));
  const xb = addX({ type: 'value', gridIndex: gi, position: 'top', min: 0, max: 1, show: false });
  const yi = addY(axis('y', gi, {
    min: 0, max: 17, ticks: [0, 2, 4, 6, 8, 10, 12, 14, 16], fs: 9.5,
    name: d.yName, gap: d.yGap, namePad: d.yNamePad
  }));

  series.push({
    type: 'custom', name: 'Simulated', xAxisIndex: xi, yAxisIndex: yi, silent: true, z: 2,
    renderItem: bandPolygon(bandGradient()),
    data: simBandX.map((x, i) => [x, d.lo[i], d.hi[i]])
  });
  d.curves.forEach(c => series.push({
    type: 'line', name: 'Simulated', xAxisIndex: xi, yAxisIndex: yi, step: 'end', symbol: 'none', silent: true, z: 3,
    lineStyle: { color: 'rgba(255,0,0,0.45)', width: 1 },
    data: simStepX.map((x, i) => [x, c[i]])
  }));
  series.push({
    type: 'custom', name: 'Box-plot', xAxisIndex: xb, yAxisIndex: yi, silent: true, z: 4,
    renderItem: boxRenderer(d.box), data: [d.stats]
  });
  series.push({
    type: 'scatter', name: 'Outliers', xAxisIndex: xb, yAxisIndex: yi, silent: true, z: 5,
    symbol: 'emptyCircle', symbolSize: 7, itemStyle: { color: BOXRED, borderWidth: 1.5 },
    data: d.out.map(v => [d.box.cx, v])
  });
  [['exp', '#111'], ['hi', BOXRED], ['lo', BOXRED]].forEach(([k, col]) => series.push({
    type: 'line', name: 'ref-' + k, xAxisIndex: xi, yAxisIndex: yi, symbol: 'none', silent: true, z: 6,
    lineStyle: { color: col, width: 1.5, type: [6, 4] },
    data: [[1, d.ref[k][0]], [d.ref[k][1], d.ref[k][0]]]
  }));
  series.push({
    type: 'line', name: 'Experimental', xAxisIndex: xi, yAxisIndex: yi, step: 'end', symbol: 'none', z: 7,
    lineStyle: { color: '#000', width: 1.8 },
    data: cycStepX.map((x, i) => [x, expRangeStep[i]])
  });
  series.push({
    type: 'line', name: 'Experimental', xAxisIndex: xi, yAxisIndex: yi, symbol: 'none', z: 7,
    lineStyle: { color: '#000', width: 1.8 },
    data: cycTailX.map((x, i) => [x, expRangeTail[i]])
  });
}

rangePanel(0, {
  lo: simLoA, hi: simHiA, curves: simCurvesA, stats: boxA, out: outliersA, ref: refA,
  box: { cx: 0.507, half: 0.183, cap: 0.092 },
  yName: 'Range', yGap: 30, yNamePad: [0, 6, 0, 0], xNamePad: [0, 20, 0, 0]
});
rangePanel(1, {
  lo: simLoB, hi: simHiB, curves: simCurvesB, stats: boxB, out: outliersB, ref: refB,
  box: { cx: 0.553, half: 0.187, cap: 0.093 },
  yName: 'range', yGap: 27, yNamePad: [0, 10, 0, 0], xNamePad: [0, 0, 0, 18]
});

// ---------------- (c) & (d) ----------------
function timePanel(gi, d) {
  const xi = addX(axis('x', gi, {
    min: 0, max: 5, ticks: [0, 1, 2, 3, 4, 5], fs: 9.5,
    name: 'Time (s)', gap: 26, namePad: d.xNamePad
  }));
  const yi = addY(axis('y', gi, {
    min: -7, max: 7, ticks: [-6, -4, -2, 0, 2, 4, 6], fmt: minusLabel, fs: 9.5,
    name: 'Amp', gap: d.yGap, namePad: [0, 8, 0, 0]
  }));
  series.push({
    type: 'line', name: 'Experimental', xAxisIndex: xi, yAxisIndex: yi, symbol: 'none', z: 2,
    lineStyle: { color: 'rgba(0,0,0,0.72)', width: 1 },
    data: zigzag(d.expMax, d.expMin)
  });
  series.push({
    type: 'custom', name: 'Generated', xAxisIndex: xi, yAxisIndex: yi, silent: true, z: 3,
    renderItem: bandPolygon(RED),
    data: coreT.map((t, i) => [t, d.coreLo[i], d.coreHi[i]])
  });
  series.push({
    type: 'line', name: 'Generated', xAxisIndex: xi, yAxisIndex: yi, symbol: 'none', z: 4,
    lineStyle: { color: 'rgba(255,0,0,0.85)', width: 1.2 },
    data: zigzag(d.simMax, d.simMin)
  });
}
timePanel(2, { expMax: expMaxC, expMin: expMinC, simMax: simMaxC, simMin: simMinC, coreHi: coreHiC, coreLo: coreLoC, yGap: 25, xNamePad: [0, 13, 0, 0] });
timePanel(3, { expMax: expMaxD, expMin: expMinD, simMax: simMaxD, simMin: simMinD, coreHi: coreHiD, coreLo: coreLoD, yGap: 26, xNamePad: [0, 18, 0, 0] });

// ---------------- (e) & (f) ----------------
function densityPanel(gi, d) {
  const xi = addX(axis('x', gi, {
    min: -6, max: 6, ticks: [-6, -4, -2, 0, 2, 4, 6], fmt: minusLabel, fs: 11,
    name: 'Amp', gap: 24, nameSize: 24, namePad: d.xNamePad
  }));
  const yi = addY(axis('y', gi, {
    type: 'log', min: 1e-6, max: 1e-1, ticks: [1e-6, 1e-5, 1e-4, 1e-3, 1e-2, 1e-1], fmt: pow10Label, fs: 11,
    name: 'Density', gap: d.yGap, nameSize: 24, namePad: d.yNamePad
  }));
  addY(minorAxis('y', gi, { min: 1e-6, max: 1e-1, ticks: logMinor(-6, -2) }));
  series.push({
    type: 'line', name: 'Experimental', xAxisIndex: xi, yAxisIndex: yi, symbol: 'none', z: 3,
    lineStyle: { color: '#000', width: 1.6 },
    data: ampExp.map((x, i) => [x, noZero(densExp[i])])
  });
  series.push({
    type: 'line', name: 'Simulated', xAxisIndex: xi, yAxisIndex: yi, symbol: 'none', z: 4,
    lineStyle: { color: '#d62728', width: 1.6, type: [5, 3] },
    data: d.simX.map((x, i) => [x, noZero(d.simY[i])])
  });
}
densityPanel(4, { simX: ampSimE, simY: densSimE, yGap: 38, yNamePad: 0, xNamePad: [0, 4, 0, 0] });
densityPanel(5, { simX: ampSimF, simY: densSimF, yGap: 44, yNamePad: [0, 15, 0, 0], xNamePad: [0, 0, 0, 30] });

// ---------------- (g) & (h) ----------------
function spectrumPanel(gi, d) {
  const xi = addX(axis('x', gi, {
    min: -50, max: 1050, ticks: [0, 200, 400, 600, 800, 1000], fs: 12,
    name: '{i|f / f}{s|0}', gap: d.xGap, namePad: d.xNamePad,
    nameRich: {
      i: { fontFamily: SERIF, fontStyle: 'italic', fontSize: 25, color: '#111' },
      s: { fontFamily: SERIF, fontSize: 17, color: '#111', verticalAlign: 'bottom', padding: [12, 0, 0, 0] }
    }
  }));
  const yi = addY(axis('y', gi, {
    type: 'log', min: d.yMin, max: d.yMax, ticks: [1e-4, 1e-3], fmt: pow10Label, fs: 12,
    name: 'Amp', gap: d.yGap, namePad: d.yNamePad
  }));
  addY(minorAxis('y', gi, { min: d.yMin, max: d.yMax, ticks: logMinor(-5, -3).filter(v => v > d.yMin && v < d.yMax) }));
  series.push({
    type: 'line', name: 'Experimental', xAxisIndex: xi, yAxisIndex: yi, symbol: 'none', z: 3,
    lineStyle: { color: '#1a1a1a', width: 1 },
    data: freq.map((f, i) => [f, d.exp[i]])
  });
  series.push({
    type: 'line', name: 'Simulated', xAxisIndex: xi, yAxisIndex: yi, symbol: 'none', z: 4,
    lineStyle: { color: 'rgba(214,39,40,0.85)', width: 1 },
    data: freq.slice(1).map((f, i) => [f, d.sim[i]])
  });
}
spectrumPanel(6, { exp: specExpG, sim: specSimG, yMin: 3.5e-5, yMax: 6.65e-3, yGap: 37, yNamePad: 0, xGap: 30, xNamePad: 0 });
spectrumPanel(7, { exp: specExpH, sim: specSimH, yMin: 2.75e-5, yMax: 5.45e-3, yGap: 42, yNamePad: [0, 34, 0, 0], xGap: 20, xNamePad: [0, 0, 0, 20] });

// ---------------- legends ----------------
function legendBox(left, top, items, iconH) {
  return {
    left: left, top: top, orient: 'vertical', itemGap: 0, itemWidth: 29, itemHeight: iconH,
    padding: [0, 9, 2, 6], borderColor: '#000', borderWidth: 1.3, borderRadius: 0,
    backgroundColor: '#fff', selectedMode: false, icon: 'rect',
    textStyle: { fontFamily: SERIF, fontSize: 19, color: '#111', lineHeight: 22, padding: [0, 0, 0, 8] },
    data: items.map(it => ({ name: it[0], icon: 'rect', itemStyle: { color: it[1], borderWidth: 0 } }))
  };
}
const legends = [
  legendBox(62, 312, [['Experimental', '#000'], ['Simulated', RED]], 3),
  legendBox(573, 308, [['Experimental', '#000'], ['Simulated', RED]], 3),
  legendBox(331, 472, [['Experimental', '#000'], ['Generated', RED]], 2.5),
  legendBox(834, 472, [['Experimental', '#000'], ['Generated', RED]], 2.5),
  legendBox(199, 1166, [['Experimental', '#000'], ['Simulated', '#c8302c']], 3),
  legendBox(713, 1169, [['Experimental', '#000'], ['Simulated', '#d9434b']], 2.5),
  legendBox(328, 1347, [['Experimental', '#222'], ['Simulated', '#d9434b']], 2.5),
  legendBox(840, 1347, [['Experimental', '#222'], ['Simulated', '#d9434b']], 2.5)
];

// ---------------- panel labels & annotations ----------------
const labels = [
  ['(a)', 257, 21], ['(b)', 777, 21], ['(c)', 263, 436], ['(d)', 780, 440],
  ['(e)', 273, 883], ['(f)', 786, 883], ['(g)', 273, 1312], ['(h)', 786, 1312]
].map(([t, x, y]) => ({
  type: 'text', x: x, y: y, silent: true,
  style: { text: t, fontFamily: SERIF, fontSize: 19, fill: '#111', align: 'center', verticalAlign: 'middle' }
}));
const notes = [
  ['Box-plot (peak-peak)', 411, 145, '#b33c3c'],
  ['10.62', 385, 185, BOXBLUE],
  ['(-17.02% underestimated)', 383, 210, BOXBLUE],
  ['Box-plot (peak-peak)', 913, 108, '#b33c3c'],
  ['11.56', 902, 185, BOXBLUE],
  ['(-9.6%  underestimated)', 907, 210, BOXBLUE]
].map(([t, x, y, c]) => ({
  type: 'text', x: x, y: y, silent: true, z: 100,
  style: { text: t, fontFamily: SERIF, fontSize: 19, fill: c, align: 'center', verticalAlign: 'middle' }
}));

// ---------------- chart ----------------
const dom = document.getElementById('chart-container');
const myChart = echarts.init(dom, null, { renderer: 'canvas', useDirtyRect: false });
const option = {
  animation: false,
  backgroundColor: '#fff',
  textStyle: { fontFamily: SANS },
  grid: grids.map(g => Object.assign({
    show: true, borderColor: '#222', borderWidth: 1, backgroundColor: '#fff',
    containLabel: false, outerBoundsMode: 'none'
  }, g)),
  xAxis: xAxes,
  yAxis: yAxes,
  legend: legends,
  graphic: labels.concat(notes),
  series: series
};
myChart.setOption(option);
window.addEventListener('resize', myChart.resize);
</script>
</body>
</html>
